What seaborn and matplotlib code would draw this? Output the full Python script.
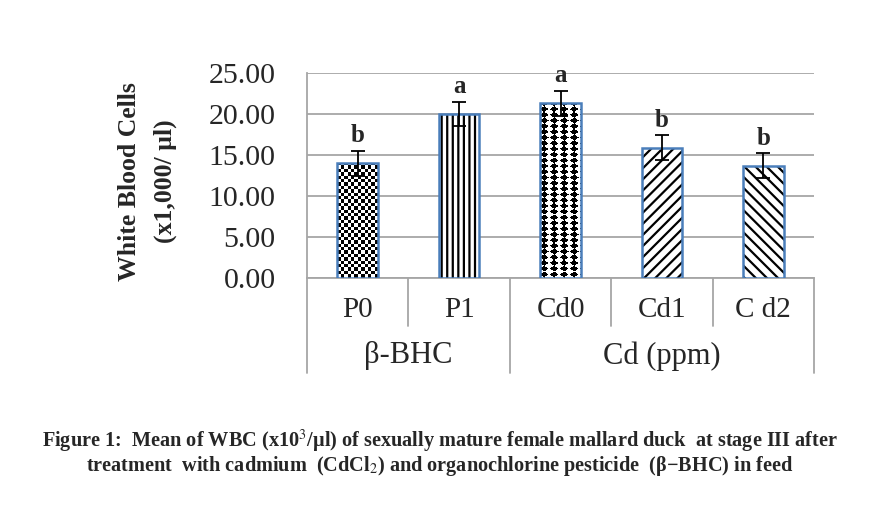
import numpy as np
import matplotlib
matplotlib.use("Agg")
import matplotlib.pyplot as plt
from matplotlib.patches import Rectangle
import seaborn as sns

# values
treatments = ['P0', 'P1', 'Cd0', 'Cd1', 'C d2']
groups = ['β-BHC', 'β-BHC', 'Cd (ppm)', 'Cd (ppm)', 'Cd (ppm)']
wbc_mean = [14.0, 20.0, 21.3, 15.9, 13.7]
wbc_err = [1.5, 1.5, 1.5, 1.5, 1.5]
letters = ['b', 'a', 'a', 'b', 'b']
y_ticks = [0, 5, 10, 15, 20, 25]

sns.set_style('white')
plt.rcParams['font.family'] = ['Liberation Serif', 'DejaVu Serif']
plt.rcParams['mathtext.fontset'] = 'stix'
plt.rcParams['hatch.linewidth'] = 1.6
plt.rcParams['hatch.color'] = 'black'

GREY = '#A6A6A6'
BLUE = '#4A7EBB'

fig = plt.figure(figsize=(8.73, 5.12), dpi=100)
ax = fig.add_axes([307 / 873, 1 - 278 / 512, 507 / 873, 205 / 512])

sns.barplot(x=treatments, y=wbc_mean, color='white', width=0.4,
            edgecolor='black', linewidth=0, saturation=1, ax=ax, zorder=3)

ax.set_xlim(-0.5, len(treatments) - 0.5)
ax.set_ylim(0, 25)
ax.set_yticks(y_ticks)
ax.set_yticklabels([f'{v:.2f}' for v in y_ticks], fontsize=21.5)
ax.yaxis.grid(True, color=GREY, lw=1.3)
ax.set_axisbelow(True)
for side in ['top', 'right']:
    ax.spines[side].set_visible(False)
for side in ['left', 'bottom']:
    ax.spines[side].set_color(GREY)
    ax.spines[side].set_linewidth(1.3)
ax.tick_params(axis='y', length=8.5, width=1.3, color=GREY, pad=14)
ax.tick_params(axis='x', length=0, pad=14, labelsize=21)

ax.set_ylabel('White Blood Cells\n(x1,000/ µl)', fontsize=18.5,
              fontweight='bold', linespacing=1.7, va='center')
ax.yaxis.set_label_coords(-0.314, 0.47)


def texture(patch, kind):
    x0, y0 = patch.get_x(), patch.get_y()
    w, h = patch.get_width(), patch.get_height()
    (a, b), (c, d) = ax.transData.transform([(x0, y0), (x0 + w, y0 + h)])
    nw, nh = int(round(c - a)), int(round(d - b))
    jj, ii = np.meshgrid(np.arange(nw), np.arange(nh))
    if kind == 'checker':
        img = (((jj / 3.4).astype(int) + (ii / 3.4).astype(int)) % 2).astype(float)
    else:
        u = ((jj + 1.3) % 10) - 5
        v = ((nh - ii + 2.0) % 5.7) - 2.85
        img = ((np.abs(u) / 4.4 + np.abs(v) / 3.0) <= 1).astype(float)
    im = ax.imshow(img, extent=(x0, x0 + w, y0, y0 + h), origin='lower',
                   cmap='gray_r', vmin=0, vmax=1, aspect='auto',
                   interpolation='nearest', zorder=3.5)
    im.set_clip_path(patch)


hatches = ['checker', '|||', 'diamond', '///', '\\\\\\']
bars = ax.patches[:len(treatments)]
for bar, hatch in zip(bars, hatches):
    if hatch in ('checker', 'diamond'):
        texture(bar, hatch)
    else:
        bar.set_hatch(hatch)
    ax.add_patch(Rectangle((bar.get_x(), bar.get_y()), bar.get_width(),
                           bar.get_height(), fill=False, ec=BLUE, lw=1.8,
                           zorder=4))

ax.set_xlim(-0.5, len(treatments) - 0.5)
ax.set_ylim(0, 25)

centers = [bar.get_x() + bar.get_width() / 2 for bar in bars]
ax.errorbar(centers, wbc_mean, yerr=wbc_err, fmt='none', ecolor='black',
            elinewidth=1.3, capsize=4.8, capthick=1.3, zorder=5)
for xc, m, e, lab in zip(centers, wbc_mean, wbc_err, letters):
    ax.text(xc, m + e + 0.45, lab, ha='center', va='bottom',
            fontsize=18, fontweight='bold', zorder=6)

# two-level category axis
tr = ax.get_xaxis_transform()
for i in range(len(treatments) + 1):
    edge = i == 0 or i == len(treatments) or groups[i] != groups[i - 1]
    depth = -0.463 if edge else -0.232
    ax.plot([i - 0.5, i - 0.5], [0, depth], transform=tr, clip_on=False,
            color=GREY, lw=1.3)
for g in dict.fromkeys(groups):
    idx = [i for i, gg in enumerate(groups) if gg == g]
    ax.text(np.mean(idx), -0.38, g, transform=tr, ha='center',
            va='center', fontsize=22)

fig.text(0.504, 1 - 441 / 512,
         r'Figure 1:  Mean of WBC (x10$^{3}$/µl) of sexually mature female mallard duck  at stage III after',
         ha='center', va='center', fontsize=14.6, fontweight='bold')
fig.text(0.504, 1 - 466 / 512,
         r'treatment  with cadmium  (CdCl$_{2}$) and organochlorine pesticide  (β−BHC) in feed',
         ha='center', va='center', fontsize=14.6, fontweight='bold')

fig.savefig('out.png', dpi=100)
plt.close(fig)
